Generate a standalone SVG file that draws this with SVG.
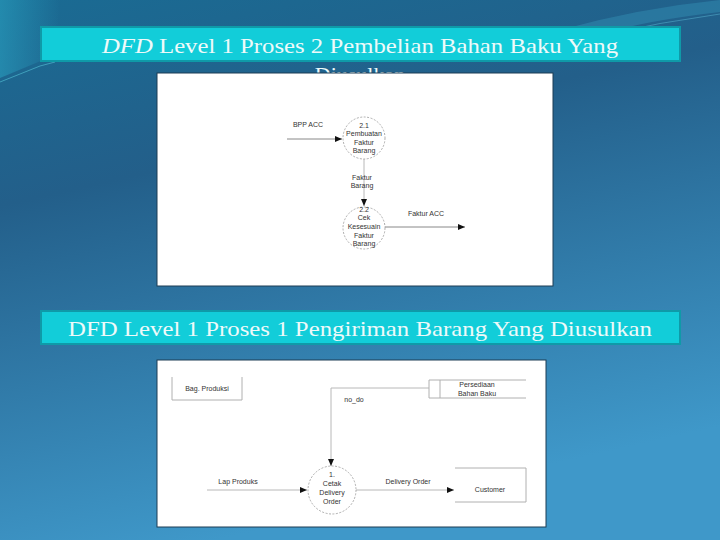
<svg xmlns="http://www.w3.org/2000/svg" width="720" height="540" viewBox="0 0 720 540">
<defs>
<linearGradient id="bg" x1="0" y1="0" x2="0.3" y2="1">
<stop offset="0" stop-color="#1a6b93"/>
<stop offset="0.35" stop-color="#235f8a"/>
<stop offset="1" stop-color="#3f98c9"/>
</linearGradient>
<linearGradient id="sw" x1="0" y1="0" x2="1" y2="0">
<stop offset="0" stop-color="#2aa5c4" stop-opacity="0.9"/>
<stop offset="1" stop-color="#2aa5c4" stop-opacity="0"/>
</linearGradient>
<marker id="ah" markerWidth="8" markerHeight="6" refX="7" refY="3" orient="auto" markerUnits="userSpaceOnUse">
<path d="M0,0 L7,3 L0,6 Z" fill="#111"/>
</marker>
<style>
.title{font-family:"Liberation Serif","DejaVu Serif",serif;font-size:22px;fill:#eefafa}
.tbox{fill:#12cdd9;stroke:#0f9aa8;stroke-width:2}
.panel{fill:#ffffff;stroke:#1d3d55;stroke-width:1}
.lbl{font-family:"Liberation Sans",Arial,sans-serif;font-size:7px;fill:#333;text-anchor:middle}
.flow{stroke:#888;stroke-width:1;fill:none}
.flow2{stroke:#b8b8b8;stroke-width:1;fill:none}
.proc{fill:#fff;stroke:#999;stroke-width:0.8;stroke-dasharray:2 1.5}
.ent{stroke:#b0b0b0;stroke-width:1;fill:none}
</style>
</defs>
<rect width="720" height="540" fill="url(#bg)"/>
<path d="M0,0 L60,0 L55,55 L0,78 Z" fill="url(#sw)" opacity="0.6"/>
<path d="M0,82 L40,66 L55,62" stroke="#4fb8cf" stroke-width="1" fill="none" opacity="0.7"/>
<path d="M560,30 Q640,8 720,0 L720,12 Q650,20 600,34 Z" fill="#3aa0c4" opacity="0.35"/>
<path d="M600,36 Q660,22 720,14" stroke="#5bb7d3" stroke-width="1" fill="none" opacity="0.5"/>

<g id="title1">
<rect class="tbox" x="41" y="27" width="639" height="34"/>
<text class="title" x="102" y="53" textLength="516" lengthAdjust="spacingAndGlyphs"><tspan font-style="italic">DFD</tspan> Level 1 Proses 2 Pembelian Bahan Baku Yang</text>
<text class="title" x="360" y="82" text-anchor="middle">Diusulkan</text>
</g>

<g id="panel1">
<rect class="panel" x="157" y="73" width="396" height="213"/>
</g>

<g id="title2">
<rect class="tbox" x="41" y="311" width="639" height="33"/>
<text class="title" x="68" y="336" textLength="584" lengthAdjust="spacingAndGlyphs">DFD Level 1 Proses 1 Pengiriman Barang Yang Diusulkan</text>
</g>

<g id="panel2">
<rect class="panel" x="157" y="360" width="389" height="167"/>
</g>

<g id="connectors">
<line class="flow" x1="287" y1="139" x2="342" y2="139" marker-end="url(#ah)"/>
<line class="flow2" x1="364" y1="159" x2="364" y2="206" marker-end="url(#ah)"/>
<line class="flow" x1="385" y1="227" x2="465" y2="227" marker-end="url(#ah)"/>
<polyline class="flow2" points="429,388 331,388 331,466" marker-end="url(#ah)"/>
<line class="flow2" x1="207" y1="490" x2="307" y2="490" marker-end="url(#ah)"/>
<line class="flow2" x1="356" y1="490" x2="454" y2="490" marker-end="url(#ah)"/>
<text class="lbl" x="308" y="127">BPP ACC</text>
<text class="lbl" x="362" y="180">Faktur</text>
<text class="lbl" x="362" y="188">Barang</text>
<text class="lbl" x="426" y="216">Faktur ACC</text>
<text class="lbl" x="354" y="402">no_do</text>
<text class="lbl" x="238" y="484">Lap Produks</text>
<text class="lbl" x="408" y="484">Delivery Order</text>
</g>

<g id="p21">
<circle class="proc" cx="364" cy="138" r="21"/>
<text class="lbl" x="364" y="128">2.1</text>
<text class="lbl" x="364" y="136">Pembuatan</text>
<text class="lbl" x="364" y="145">Faktur</text>
<text class="lbl" x="364" y="153">Barang</text>
</g>

<g id="p22">
<circle class="proc" cx="364" cy="228" r="21"/>
<text class="lbl" x="364" y="212">2.2</text>
<text class="lbl" x="364" y="220">Cek</text>
<text class="lbl" x="364" y="229">Kesesuain</text>
<text class="lbl" x="364" y="238">Faktur</text>
<text class="lbl" x="364" y="246">Barang</text>
</g>

<g id="bagproduksi">
<polyline class="ent" points="172,377 172,400 242,400 242,377"/>
<text class="lbl" x="207" y="391">Bag. Produksi</text>
</g>

<g id="persediaan">
<line class="ent" x1="429" y1="380" x2="526" y2="380"/>
<line class="ent" x1="429" y1="398" x2="526" y2="398"/>
<line class="ent" x1="429" y1="380" x2="429" y2="398"/>
<line class="ent" x1="440" y1="380" x2="440" y2="398"/>
<text class="lbl" x="477" y="387">Persediaan</text>
<text class="lbl" x="477" y="396">Bahan Baku</text>
</g>

<g id="p1">
<circle class="proc" cx="332" cy="490" r="24"/>
<text class="lbl" x="332" y="477">1.</text>
<text class="lbl" x="332" y="486">Cetak</text>
<text class="lbl" x="332" y="495">Delivery</text>
<text class="lbl" x="332" y="504">Order</text>
</g>

<g id="customer">
<polyline class="ent" points="455,468 526,468 526,502 455,502"/>
<text class="lbl" x="490" y="492">Customer</text>
</g>
</svg>
